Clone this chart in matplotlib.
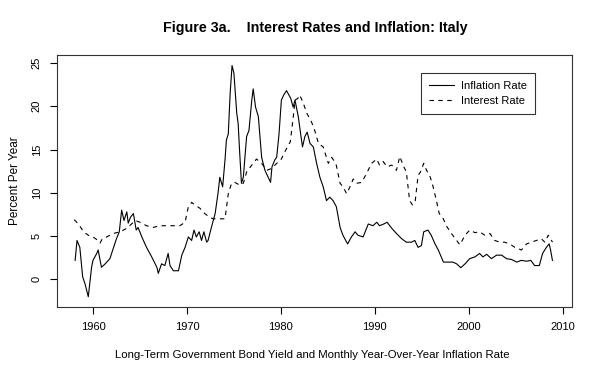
import matplotlib
matplotlib.use("Agg")
import matplotlib.pyplot as plt

plt.rcParams["font.family"] = ["Liberation Sans", "DejaVu Sans"]

# inflation rate (year, percent)
infl_year = [1958.1, 1958.3, 1958.6, 1958.9, 1959.15, 1959.5, 1959.85, 1960.0, 1960.4, 1960.55,
             1960.9, 1961.3, 1961.8, 1962.2, 1962.5, 1962.8, 1963.05, 1963.3, 1963.6, 1963.75,
             1964.0, 1964.3, 1964.6, 1964.8, 1965.2, 1965.7, 1966.25, 1966.8, 1966.95, 1967.3,
             1967.65, 1968.0, 1968.2, 1968.55, 1969.1, 1969.45, 1969.8, 1970.15, 1970.5, 1970.75,
             1971.0, 1971.3, 1971.55, 1971.8, 1972.1, 1972.25, 1972.6, 1973.0, 1973.3, 1973.5,
             1973.8, 1974.05, 1974.2, 1974.4, 1974.6, 1974.8, 1975.0, 1975.3, 1975.45, 1975.6,
             1975.8, 1976.0, 1976.35, 1976.6, 1976.9, 1977.05, 1977.3, 1977.6, 1977.75, 1977.95,
             1978.3, 1978.65, 1978.9, 1979.05, 1979.35, 1979.55, 1979.8, 1980.05, 1980.3, 1980.6,
             1980.85, 1981.05, 1981.3, 1981.5, 1981.85, 1982.1, 1982.3, 1982.55, 1982.8, 1983.1,
             1983.45, 1983.8, 1984.15, 1984.5, 1984.85, 1985.2, 1985.55, 1985.9, 1986.3, 1986.6,
             1987.1, 1987.5, 1987.9, 1988.2, 1988.75, 1989.3, 1989.8, 1990.2, 1990.5, 1990.95,
             1991.3, 1991.8, 1992.3, 1992.85, 1993.35, 1993.9, 1994.25, 1994.6, 1994.95, 1995.2,
             1995.65, 1996.0, 1996.4, 1996.75, 1997.3, 1997.8, 1998.3, 1998.7, 1999.15, 1999.6,
             2000.1, 2000.65, 2001.15, 2001.5, 2001.9, 2002.4, 2002.95, 2003.5, 2004.0, 2004.55,
             2005.1, 2005.6, 2006.15, 2006.6, 2007.0, 2007.5, 2007.85, 2008.25, 2008.55, 2008.7,
             2008.9]
infl_rate = [2.2, 4.5, 3.7, 0.3, -0.5, -2.0, 1.4, 2.2, 3.0, 3.4,
             1.4, 1.8, 2.4, 3.7, 4.7, 5.5, 8.0, 6.8, 7.8, 6.5,
             7.2, 7.6, 5.7, 6.0, 4.9, 3.7, 2.6, 1.4, 0.7, 1.8,
             1.6, 3.0, 1.6, 1.0, 1.0, 2.8, 3.7, 4.9, 4.5, 5.7,
             4.9, 5.5, 4.5, 5.5, 4.3, 4.5, 6.0, 7.6, 9.9, 11.8,
             10.7, 13.8, 16.1, 16.8, 21.5, 24.7, 23.8, 19.2, 18.0, 14.9,
             11.1, 11.8, 16.5, 17.2, 20.7, 22.0, 19.9, 18.8, 16.8, 14.1,
             12.6, 11.8, 11.2, 13.0, 13.8, 14.1, 16.8, 20.7, 21.3, 21.8,
             21.3, 20.9, 19.9, 20.7, 18.8, 16.8, 15.3, 16.5, 17.0, 15.7,
             15.3, 13.4, 11.8, 10.7, 9.1, 9.5, 9.1, 8.4, 6.0, 5.1,
             4.1, 4.9, 5.5, 5.1, 4.9, 6.4, 6.2, 6.6, 6.2, 6.4,
             6.6, 5.9, 5.3, 4.7, 4.3, 4.3, 4.5, 3.7, 3.9, 5.5,
             5.7, 5.1, 4.1, 3.4, 2.0, 2.0, 2.0, 1.8, 1.35, 1.8,
             2.4, 2.6, 3.0, 2.6, 2.9, 2.4, 2.8, 2.8, 2.4, 2.3,
             2.0, 2.2, 2.1, 2.2, 1.6, 1.6, 3.0, 3.7, 4.1, 3.4,
             2.2]

# long-term government bond yield (year, percent)
rate_year = [1958.0, 1958.45, 1959.0, 1959.5, 1960.0, 1960.55, 1960.75, 1961.0, 1961.45, 1962.15,
             1962.9, 1963.6, 1964.1, 1964.5, 1965.0, 1965.7, 1966.4, 1967.1, 1968.2, 1969.25,
             1969.8, 1970.15, 1970.5, 1970.85, 1971.4, 1971.9, 1972.4, 1972.8, 1973.5, 1974.05,
             1974.4, 1974.75, 1975.1, 1975.6, 1976.0, 1976.35, 1976.9, 1977.4, 1977.95, 1978.5,
             1979.0, 1979.55, 1980.05, 1980.4, 1981.0, 1981.3, 1981.5, 1981.8, 1982.0, 1982.4,
             1982.75, 1983.25, 1983.6, 1984.0, 1984.5, 1985.05, 1985.4, 1985.85, 1986.3, 1986.6,
             1987.0, 1987.35, 1987.7, 1988.05, 1988.6, 1989.1, 1989.65, 1990.2, 1990.5, 1990.9,
             1991.3, 1991.8, 1992.3, 1992.65, 1993.0, 1993.35, 1993.7, 1994.0, 1994.3, 1994.6,
             1994.85, 1995.2, 1995.5, 1995.9, 1996.2, 1996.55, 1996.85, 1997.2, 1997.6, 1998.15,
             1998.7, 1999.05, 1999.6, 2000.1, 2000.65, 2001.15, 2001.7, 2002.25, 2002.75, 2003.3,
             2003.8, 2004.35, 2004.9, 2005.6, 2006.15, 2006.65, 2007.2, 2007.7, 2008.1, 2008.45,
             2008.7, 2008.9]
rate_pct = [6.9, 6.4, 5.5, 5.1, 4.9, 4.5, 4.2, 4.7, 4.9, 5.3,
            5.5, 5.9, 6.4, 6.8, 6.6, 6.2, 6.0, 6.2, 6.2, 6.2,
            6.6, 8.4, 8.9, 8.6, 8.2, 7.6, 7.2, 7.0, 7.0, 7.0,
            9.9, 11.1, 11.2, 10.9, 11.1, 12.4, 13.2, 13.9, 13.4, 12.6,
            12.8, 13.4, 13.9, 14.7, 15.9, 18.6, 20.7, 20.9, 21.3, 20.3,
            19.2, 18.2, 17.2, 15.7, 15.3, 13.4, 14.1, 13.4, 11.1, 10.7,
            9.9, 10.7, 11.6, 11.1, 11.2, 12.2, 13.4, 13.9, 13.2, 13.6,
            13.0, 13.2, 12.6, 14.2, 13.2, 12.4, 9.1, 8.6, 9.1, 12.0,
            12.4, 13.4, 12.6, 11.8, 10.7, 9.1, 7.6, 7.2, 6.2, 5.3,
            4.5, 4.0, 5.1, 5.7, 5.4, 5.5, 5.1, 5.3, 4.5, 4.3,
            4.3, 4.1, 3.7, 3.4, 4.1, 4.3, 4.5, 4.7, 4.3, 5.1,
            4.7, 4.3]

x_ticks = [1960, 1970, 1980, 1990, 2000, 2010]
y_ticks = [0, 5, 10, 15, 20, 25]

fig = plt.figure(figsize=(6, 3.75), dpi=100)
ax = fig.add_axes([0.095, 0.181, 0.858, 0.672])

ax.plot(infl_year, infl_rate, color="black", linewidth=0.8, label="Inflation Rate")
ax.plot(rate_year, rate_pct, color="black", linewidth=0.8, linestyle=(0, (4, 4)),
        label="Interest Rate")

ax.set_xlim(1956.17, 2010.96)
ax.set_ylim(-3.2, 25.9)
ax.set_xticks(x_ticks)
ax.set_yticks(y_ticks)
ax.tick_params(direction="out", length=5, width=0.8, labelsize=8, pad=6)
for lbl in ax.get_yticklabels():
    lbl.set_rotation(90)
    lbl.set_verticalalignment("center")
for sp in ax.spines.values():
    sp.set_linewidth(0.8)
    sp.set_color("#333333")

ax.set_ylabel("Percent Per Year", fontsize=8.5, labelpad=8)
fig.text(0.525, 0.925, "Figure 3a.    Interest Rates and Inflation: Italy",
         ha="center", va="center", fontsize=10.3, fontweight="bold")
fig.text(0.52, 0.053,
         "Long-Term Government Bond Yield and Monthly Year-Over-Year Inflation Rate",
         ha="center", va="center", fontsize=8.2)

leg = ax.legend(loc="upper left", bbox_to_anchor=(0.696, 0.95), fontsize=8,
                frameon=True, fancybox=False, handlelength=2.3, borderpad=0.7,
                labelspacing=0.45, handletextpad=0.6)
leg.get_frame().set_edgecolor("black")
leg.get_frame().set_linewidth(0.8)

fig.savefig("out.png", dpi=100)
